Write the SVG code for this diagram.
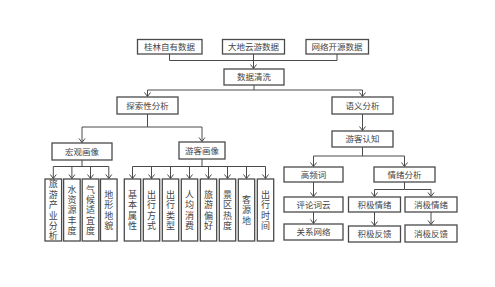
<svg xmlns="http://www.w3.org/2000/svg" width="495" height="287" viewBox="0 0 495 287">
<style>
.b{fill:#fff;stroke:#4a4a4a;stroke-width:1.3}
.t{font-family:"Noto Sans CJK SC","Liberation Sans",sans-serif;font-size:8.5px;fill:#444;text-anchor:middle}
.v{font-family:"Noto Sans CJK SC","Liberation Sans",sans-serif;font-size:9px;fill:#444;text-anchor:middle;writing-mode:vertical-rl;letter-spacing:1.4px}
.c{fill:none;stroke:#4a4a4a;stroke-width:1}
.a{marker-end:url(#arr)}
</style>
<defs>
<marker id="arr" markerUnits="userSpaceOnUse" viewBox="-6 -4 7 8" markerWidth="7" markerHeight="8" refX="0" refY="0" orient="auto">
<path d="M-4,-3 L0,0 L-4,3" fill="none" stroke="#4a4a4a" stroke-width="1"/>
</marker>
</defs>
<rect width="495" height="287" fill="#fff"/>
<g id="connectors">
<path class="c" d="M169.5,54 V60.5 H337 V54"/>
<path class="c a" d="M253.5,54 V68.5"/>
<path class="c" d="M254,85 V90 H147.5 M254,90 H362.5"/>
<path class="c a" d="M147.5,90 V96.5"/>
<path class="c a" d="M362.5,90 V96.5"/>
<path class="c" d="M147.5,114 V127 H82 M147.5,127 H202"/>
<path class="c a" d="M82,127 V142.5"/>
<path class="c a" d="M202,127 V141.5"/>
<path class="c" d="M82,160 V166.5 H53.3 M82,166.5 H108.8"/>
<path class="c a" d="M53.3,166.5 V178.5"/>
<path class="c a" d="M71.9,166.5 V178.5"/>
<path class="c a" d="M90.5,166.5 V178.5"/>
<path class="c a" d="M108.8,166.5 V178.5"/>
<path class="c" d="M202,159 V166.5 H132.5 M202,166.5 H265.5"/>
<path class="c a" d="M132.5,166.5 V178.5"/>
<path class="c a" d="M151.5,166.5 V178.5"/>
<path class="c a" d="M170.5,166.5 V178.5"/>
<path class="c a" d="M189.5,166.5 V178.5"/>
<path class="c a" d="M208.5,166.5 V178.5"/>
<path class="c a" d="M227.5,166.5 V178.5"/>
<path class="c a" d="M246.5,166.5 V178.5"/>
<path class="c a" d="M265.5,166.5 V178.5"/>
<path class="c a" d="M362.5,114 V130.5"/>
<path class="c" d="M362.5,147 V156 H313.5 M362.5,156 H404.5"/>
<path class="c a" d="M313.5,156 V166.5"/>
<path class="c a" d="M404.5,156 V166.5"/>
<path class="c a" d="M313.5,182 V196.5"/>
<path class="c a" d="M313.5,212 V223.5"/>
<path class="c" d="M404.5,182 V189.5 H374.5 M404.5,189.5 H431"/>
<path class="c a" d="M374.5,189.5 V196.5"/>
<path class="c a" d="M431,189.5 V196.5"/>
<path class="c a" d="M374.5,212 V225.5"/>
<path class="c a" d="M431,212 V224.5"/>
</g>
<g id="n1"><rect class="b" x="137.5" y="39.5" width="64.5" height="14.5"/><text class="t" x="169.5" y="50">桂林自有数据</text></g>
<g id="n2"><rect class="b" x="222.5" y="39.5" width="62" height="14.5"/><text class="t" x="253.5" y="50">大地云游数据</text></g>
<g id="n3"><rect class="b" x="306" y="39.5" width="62.5" height="14.5"/><text class="t" x="337" y="50">网络开源数据</text></g>
<g id="n4"><rect class="b" x="224" y="69" width="60" height="16"/><text class="t" x="254" y="80">数据清洗</text></g>
<g id="n5"><rect class="b" x="117" y="97" width="61" height="17"/><text class="t" x="147.5" y="108.5">探索性分析</text></g>
<g id="n6"><rect class="b" x="332" y="97" width="61" height="17"/><text class="t" x="362.5" y="108.5">语义分析</text></g>
<g id="n7"><rect class="b" x="52" y="143" width="60" height="17"/><text class="t" x="82" y="154.5">宏观画像</text></g>
<g id="n8"><rect class="b" x="179" y="142" width="46" height="17"/><text class="t" x="202" y="153.5">游客画像</text></g>
<g id="n9"><rect class="b" x="45" y="179" width="16.6" height="62"/><text class="v" x="53.3" y="210.7">旅游产业分析</text></g>
<g id="n10"><rect class="b" x="63.6" y="179" width="16.6" height="62"/><text class="v" x="71.9" y="210.7">水资源丰度</text></g>
<g id="n11"><rect class="b" x="82.2" y="179" width="16.6" height="62"/><text class="v" x="90.5" y="210.7">气候适宜度</text></g>
<g id="n12"><rect class="b" x="100.5" y="179" width="16.6" height="62"/><text class="v" x="108.8" y="210.7">地形地貌</text></g>
<g id="n13"><rect class="b" x="124.3" y="179" width="16.4" height="62"/><text class="v" x="132.5" y="210.7">基本属性</text></g>
<g id="n14"><rect class="b" x="143.3" y="179" width="16.4" height="62"/><text class="v" x="151.5" y="210.7">出行方式</text></g>
<g id="n15"><rect class="b" x="162.3" y="179" width="16.4" height="62"/><text class="v" x="170.5" y="210.7">出行类型</text></g>
<g id="n16"><rect class="b" x="181.3" y="179" width="16.4" height="62"/><text class="v" x="189.5" y="210.7">人均消费</text></g>
<g id="n17"><rect class="b" x="200.3" y="179" width="16.4" height="62"/><text class="v" x="208.5" y="210.7">旅游偏好</text></g>
<g id="n18"><rect class="b" x="219.3" y="179" width="16.4" height="62"/><text class="v" x="227.5" y="210.7">景区热度</text></g>
<g id="n19"><rect class="b" x="238.3" y="179" width="16.4" height="62"/><text class="v" x="246.5" y="210.7">客源地</text></g>
<g id="n20"><rect class="b" x="257.3" y="179" width="16.4" height="62"/><text class="v" x="265.5" y="210.7">出行时间</text></g>
<g id="n21"><rect class="b" x="332" y="131" width="61" height="16"/><text class="t" x="362.5" y="142">游客认知</text></g>
<g id="n22"><rect class="b" x="284" y="167" width="59" height="15"/><text class="t" x="313.5" y="177.5">高频词</text></g>
<g id="n23"><rect class="b" x="374" y="167" width="61" height="15"/><text class="t" x="404.5" y="177.5">情绪分析</text></g>
<g id="n24"><rect class="b" x="284" y="197" width="59" height="15"/><text class="t" x="313.5" y="207.5">评论词云</text></g>
<g id="n25"><rect class="b" x="284" y="224" width="59" height="16"/><text class="t" x="313.5" y="235">关系网络</text></g>
<g id="n26"><rect class="b" x="348.5" y="197" width="52" height="15"/><text class="t" x="374.5" y="207.5">积极情绪</text></g>
<g id="n27"><rect class="b" x="405" y="197" width="52" height="15"/><text class="t" x="431" y="207.5">消极情绪</text></g>
<g id="n28"><rect class="b" x="348.5" y="226" width="52" height="16"/><text class="t" x="374.5" y="237">积极反馈</text></g>
<g id="n29"><rect class="b" x="405" y="225" width="52" height="17"/><text class="t" x="431" y="236.5">消极反馈</text></g>
</svg>
